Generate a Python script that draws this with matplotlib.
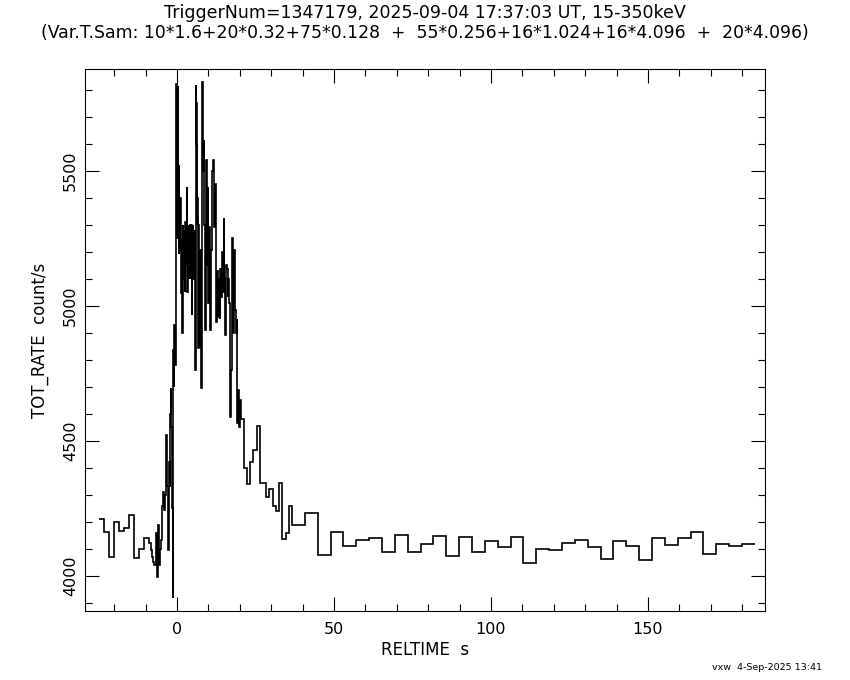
import numpy as np
import matplotlib
matplotlib.use("Agg")
import matplotlib.pyplot as plt
from matplotlib.ticker import MultipleLocator

# ---- sampling scheme (from the subtitle) ----
samp_counts = [10, 20, 75, 55, 16, 16, 20]
samp_dt = [1.6, 0.32, 0.128, 0.256, 1.024, 4.096, 4.096]
tstart_a = -24.85   # start of first group (1.6 / 0.32 / 0.128 s bins)
tstart_b = 6.16     # start of second group (0.256 / 1.024 / 4.096 s bins)

# ---- rates (count/s) ----
rate_1p6 = [4210, 4163, 4069, 4201, 4165, 4176, 4224, 4065, 4099, 4139]
rate_0p32 = [4121, 4121, 4095, 4070, 4050, 4042, 4040, 4158, 3995, 4190,
             4040, 4100, 4133, 4260, 4312, 4244, 4300, 4522, 4331, 4096]
rate_0p128 = [4420, 4330, 4400, 4600, 4695, 4550, 4420, 4250, 3917, 4500,
              4836, 4700, 4929, 4850, 4923, 4780, 4900, 5823, 5350, 5700,
              5250, 5815, 5480, 5190, 5521, 5300, 5200, 5400, 5188, 5311,
              5046, 5250, 4898, 5200, 5300, 5100, 5280, 5150, 5250, 5050,
              5311, 5300, 5150, 5440, 5200, 5050, 5280, 5150, 5300, 5100,
              5250, 5200, 5300, 5250, 5100, 5300, 4966, 5200, 5150, 5300,
              5100, 5250, 5200, 5280, 5150, 4762, 5817, 5600, 5300, 5500,
              5330, 5000, 4843, 5200, 5100]
rate_0p256 = [5750, 5400, 5300, 5000, 4843, 5206, 4695, 5830, 5500, 5614,
              5300, 4910, 5540, 5150, 5440, 5010, 5290, 4910, 5206, 5300,
              5500, 5540, 5290, 5450, 5000, 4940, 5130, 4960, 5100, 4950,
              5136, 5034, 5200, 5050, 5324, 5100, 4892, 5150, 5136, 5034,
              5100, 5010, 4590, 4762, 4985, 5250, 4900, 5206, 4984, 4898,
              4950, 4566, 4688, 4553, 4650]
rate_1p024 = [4580, 4398, 4340, 4423, 4466, 4555, 4343, 4343, 4293, 4321,
              4259, 4240, 4343, 4135, 4158, 4260]
rate_4p096a = [4189, 4232, 4077, 4162, 4110, 4132, 4140, 4089, 4151, 4089,
               4118, 4147, 4073, 4143, 4089, 4128]
rate_4p096b = [4106, 4143, 4047, 4099, 4095, 4122, 4132, 4106, 4062, 4128,
               4110, 4058, 4140, 4114, 4140, 4162, 4080, 4117, 4110, 4117]

x_major = [0, 50, 100, 150]
y_major = [4000, 4500, 5000, 5500]

title1 = "TriggerNum=1347179, 2025-09-04 17:37:03 UT, 15-350keV"
title2 = "(Var.T.Sam: 10*1.6+20*0.32+75*0.128  +  55*0.256+16*1.024+16*4.096  +  20*4.096)"
xlabel = "RELTIME  s"
ylabel = "TOT_RATE  count/s"
footer = "vxw  4-Sep-2025 13:41"


def edges_for(start, counts, dts):
    w = np.repeat(dts, counts)
    return start + np.concatenate([[0.0], np.cumsum(w)])


vals_a = np.array(rate_1p6 + rate_0p32 + rate_0p128, dtype=float)
vals_b = np.array(rate_0p256 + rate_1p024 + rate_4p096a + rate_4p096b, dtype=float)
edges_a = edges_for(tstart_a, samp_counts[:3], samp_dt[:3])
edges_b = edges_for(tstart_b, samp_counts[3:], samp_dt[3:])

plt.rcParams["font.family"] = ["DejaVu Sans"]
fig = plt.figure(figsize=(8.5, 6.8), dpi=100)
ax = fig.add_axes([0.1, 0.1015, 0.8, 0.7963])

ax.stairs(vals_a, edges_a, baseline=None, color="black", lw=1.2)
ax.stairs(vals_b, edges_b, baseline=None, color="black", lw=1.2)

ax.set_xlim(-29.3, 187.3)
ax.set_ylim(3870, 5875)
ax.set_xticks(x_major)
ax.set_yticks(y_major)
ax.xaxis.set_minor_locator(MultipleLocator(10))
ax.yaxis.set_minor_locator(MultipleLocator(100))
ax.tick_params(which="both", direction="in", top=True, right=True,
               width=0.8, colors="black", labelsize=11.5)
ax.tick_params(which="major", length=10)
ax.tick_params(which="minor", length=5)
ax.tick_params(axis="x", pad=8)
ax.tick_params(axis="y", pad=5)
for lab in ax.get_yticklabels():
    lab.set_rotation(90)
    lab.set_va("center")
for s in ax.spines.values():
    s.set_linewidth(0.8)

ax.set_xlabel(xlabel, fontsize=12, labelpad=3)
ax.set_ylabel(ylabel, fontsize=12, labelpad=10)

fig.text(0.5, 1 - 12.5 / 680, title1, ha="center", va="center", fontsize=12.5)
fig.text(0.5, 1 - 32.5 / 680, title2, ha="center", va="center", fontsize=12.4)
fig.text(822 / 850, 1 - 667 / 680, footer, ha="right", va="center", fontsize=6.8)

fig.savefig("out.png", dpi=100)
